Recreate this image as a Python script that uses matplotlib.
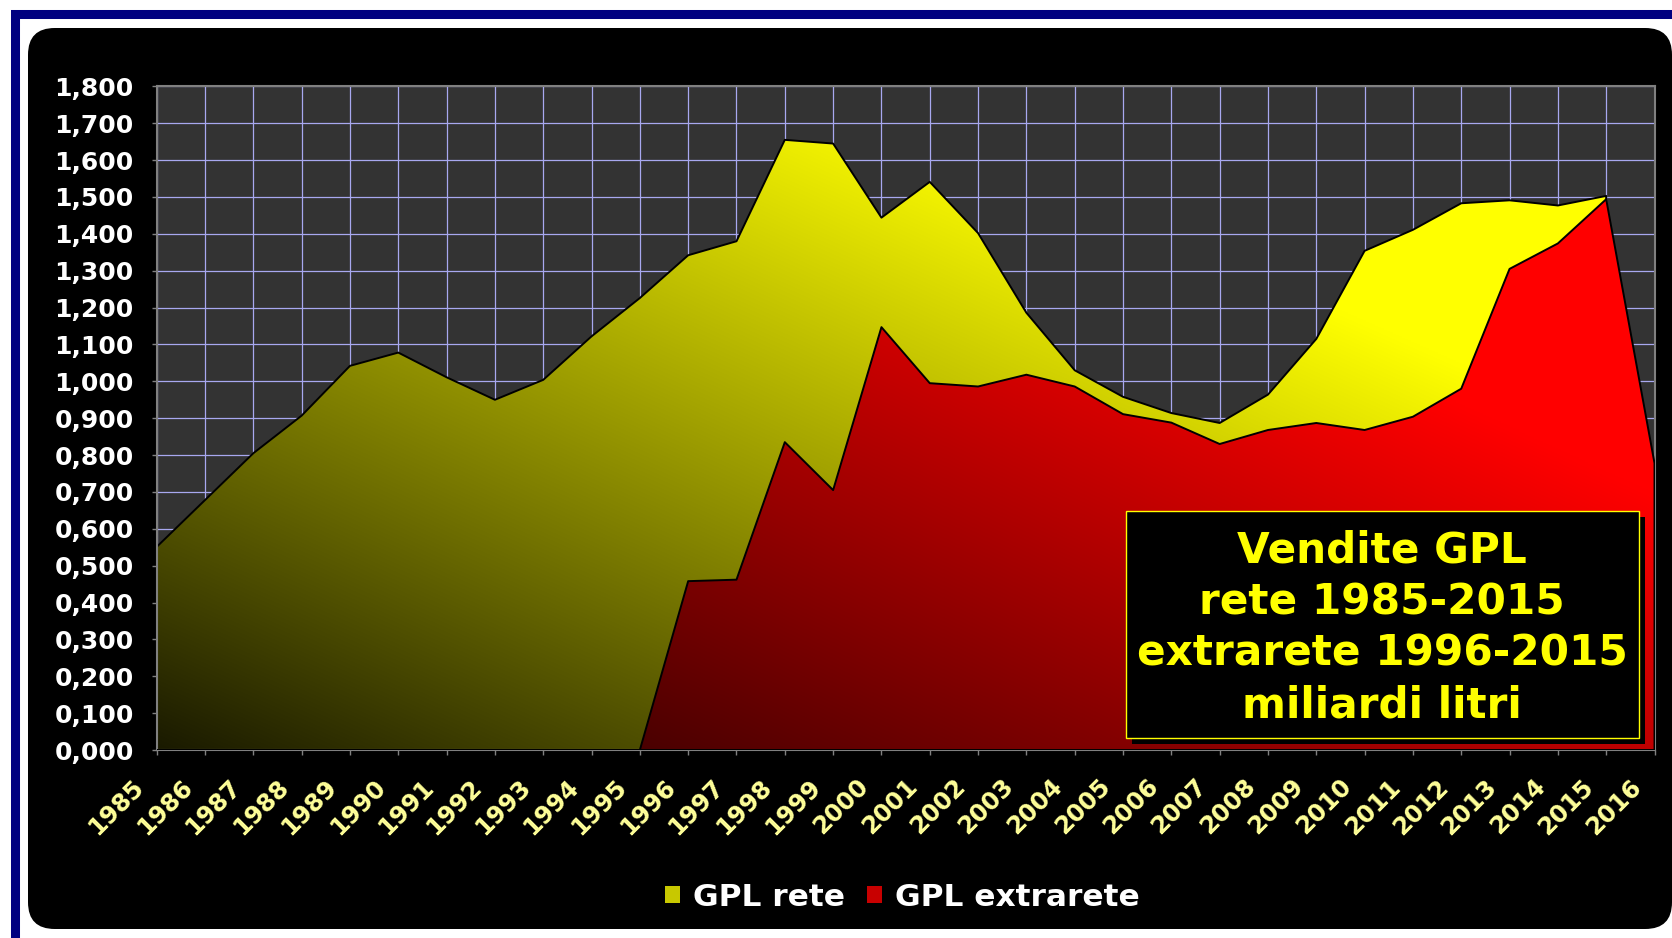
import numpy as np
import matplotlib
matplotlib.use("Agg")
import matplotlib.pyplot as plt
from matplotlib.patches import Rectangle, FancyBboxPatch, Patch
from matplotlib.transforms import ScaledTranslation

plt.rcParams['font.family'] = ['DejaVu Sans']
plt.rcParams['font.weight'] = 'bold'

# data (miliardi litri)
years = [str(y) for y in range(1985, 2017)]
gpl_rete = [0.551, 0.678, 0.805, 0.907, 1.042, 1.078, 1.011, 0.950, 1.004, 1.122,
            1.226, 1.342, 1.380, 1.655, 1.645, 1.444, 1.541, 1.402, 1.186, 1.030,
            0.958, 0.914, 0.887, 0.964, 1.115, 1.354, 1.411, 1.483, 1.491, 1.477,
            1.503]
gpl_extrarete = [0, 0, 0, 0, 0, 0, 0, 0, 0, 0,
                 0, 0.458, 0.462, 0.835, 0.705, 1.147, 0.995, 0.986, 1.018, 0.986,
                 0.911, 0.888, 0.830, 0.868, 0.887, 0.868, 0.904, 0.980, 1.305, 1.374,
                 1.494, 0.778]
yticks = [i / 10 for i in range(19)]
ylabels = [f"{v:.3f}".replace('.', ',') for v in yticks]
box_text = "Vendite GPL\nrete 1985-2015\nextrarete 1996-2015\nmiliardi litri"

W, H = 1672, 938
fig = plt.figure(figsize=(W / 100, H / 100), dpi=100, facecolor='white')


def fx(px):
    return px / W


def fy(py):
    return 1 - py / H


# slide frame: navy border + black rounded panel
fig.patches.append(Rectangle((fx(14.5), fy(1200)), fx(2000), fy(14.5) - fy(1200),
                             transform=fig.transFigure, facecolor='none',
                             edgecolor='#000080', lw=6.5, zorder=-2))
fig.patches.append(FancyBboxPatch((fx(28), fy(929)), fx(1672 - 28), fy(28) - fy(929),
                                  boxstyle="round,pad=0,rounding_size=0.016",
                                  mutation_aspect=W / H,
                                  transform=fig.transFigure, facecolor='black',
                                  edgecolor='none', zorder=-1))

ax = fig.add_axes([fx(156.7), fy(750), fx(1654.5) - fx(156.7), fy(86.4) - fy(750)])
ax.set_zorder(1)
ax.set_facecolor('#333333')
n = len(years)


def gradient_area(values, rgb, a, cu, cv, z):
    x = np.arange(len(values))
    poly = ax.fill_between(x, values, 0, facecolor='none', edgecolor='black',
                           lw=1.4, zorder=z + 0.5)
    u, v = np.meshgrid(np.linspace(0, 1, 500), np.linspace(0, 1, 500))
    b = np.clip(a + cu * u + cv * v, 0, 1)
    img = np.dstack([b * rgb[0], b * rgb[1], b * rgb[2]])
    im = ax.imshow(img, extent=(0, n - 1, 0, 1.8), origin='lower', aspect='auto',
                   interpolation='bilinear', zorder=z)
    im.set_clip_path(poly.get_paths()[0], transform=ax.transData)


gradient_area(gpl_rete, (1, 1, 0), 0.1, 0.62, 0.62, 2)
gradient_area(gpl_extrarete, (1, 0, 0), 0.07, 0.68, 0.65, 3)
ax.set_xlim(0, n - 1)
ax.set_ylim(0, 1.8)

ax.set_axisbelow(True)
ax.grid(True, color='#a8a8f0', lw=0.9)
ax.set_xticks(range(n))
ax.set_xticklabels(years, rotation=45, ha='right', color='#ffff99', fontsize=17.5)
ax.set_yticks(yticks)
ax.set_yticklabels(ylabels, color='white', fontsize=18)
ax.tick_params(axis='both', direction='out', length=3.6, color='#808080', width=1)
ax.tick_params(axis='x', pad=14)
ax.tick_params(axis='y', pad=13)
for lab in ax.get_xticklabels():
    lab.set_transform(lab.get_transform() + ScaledTranslation(-8 / 100, 0, fig.dpi_scale_trans))
for s in ax.spines.values():
    s.set_color('#808080')
    s.set_linewidth(1.5)

# legend
handles = [Patch(facecolor='#c8c800', edgecolor='none', label='GPL rete'),
           Patch(facecolor='#c80000', edgecolor='none', label='GPL extrarete')]
fig.legend(handles=handles, loc='center', bbox_to_anchor=(fx(902), fy(897)), ncol=2,
           frameon=False, fontsize=22.5, labelcolor='white', handlelength=0.5,
           handleheight=0.5, handletextpad=0.4, columnspacing=0.7)

# text box with shadow
bx0, by0, bx1, by1 = 1126.4, 510.7, 1638.6, 737.7
fig.patches.append(Rectangle((fx(bx0 + 6), fy(by1 + 6)), fx(bx1 - bx0), fy(by0) - fy(by1),
                             transform=fig.transFigure, facecolor='black',
                             edgecolor='none', zorder=5))
fig.patches.append(Rectangle((fx(bx0), fy(by1)), fx(bx1 - bx0), fy(by0) - fy(by1),
                             transform=fig.transFigure, facecolor='black',
                             edgecolor='#ffff00', lw=1, zorder=6))
fig.text(fx(1382), fy(628), box_text, ha='center', va='center', color='#ffff00',
         fontsize=30.4, fontweight='bold', linespacing=1.3, zorder=7)

fig.savefig('out.png', dpi=100, facecolor='white')
